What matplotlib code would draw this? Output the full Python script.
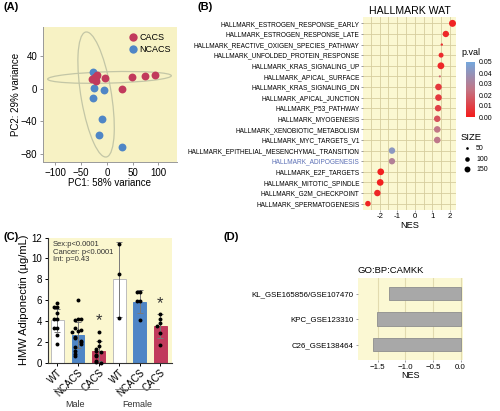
import numpy as np
import matplotlib
matplotlib.use('Agg')
import matplotlib.pyplot as plt
from matplotlib.patches import Ellipse
from matplotlib.colors import LinearSegmentedColormap, Normalize
import matplotlib.transforms as mtransforms
from matplotlib.lines import Line2D
from matplotlib.colorbar import ColorbarBase

plt.rcParams['font.family'] = ['Liberation Sans', 'DejaVu Sans']
plt.rcParams['axes.unicode_minus'] = True

W, H = 500, 411

# ---------------- Panel A data ----------------
cacs_pc1 = [-28, -24, -20, -22, -4, 30, 48, 73, 94]
cacs_pc2 = [12, 14, 17, 10, 13, 0, 15, 16, 17]
ncacs_pc1 = [-27, -21, -25, -6, -27, -9, -16, 30]
ncacs_pc2 = [21, 15, 1, -1, -11, -37, -57, -71]
ell_group = ['CACS', 'NCACS']
ell_cx = [5, -21]
ell_cy = [14, -7]
ell_major = [240, 159]
ell_minor = [14, 58]
ell_angle = [1, 105.8]

# ---------------- Panel B data ----------------
hallmark_terms = [
    'HALLMARK_ESTROGEN_RESPONSE_EARLY', 'HALLMARK_ESTROGEN_RESPONSE_LATE',
    'HALLMARK_REACTIVE_OXIGEN_SPECIES_PATHWAY', 'HALLMARK_UNFOLDED_PROTEIN_RESPONSE',
    'HALLMARK_KRAS_SIGNALING_UP', 'HALLMARK_APICAL_SURFACE',
    'HALLMARK_KRAS_SIGNALING_DN', 'HALLMARK_APICAL_JUNCTION',
    'HALLMARK_P53_PATHWAY', 'HALLMARK_MYOGENESIS',
    'HALLMARK_XENOBIOTIC_METABOLISM', 'HALLMARK_MYC_TARGETS_V1',
    'HALLMARK_EPITHELIAL_MESENCHYMAL_TRANSITION', 'HALLMARK_ADIPOGENESIS',
    'HALLMARK_E2F_TARGETS', 'HALLMARK_MITOTIC_SPINDLE',
    'HALLMARK_G2M_CHECKPOINT', 'HALLMARK_SPERMATOGENESIS']
hallmark_nes = [2.15, 1.77, 1.54, 1.50, 1.49, 1.43, 1.35, 1.35, 1.33, 1.28, 1.28, 1.28,
                -1.30, -1.30, -1.94, -1.97, -2.13, -2.67]
hallmark_pval = [0.002, 0.003, 0.005, 0.004, 0.003, 0.02, 0.008, 0.008, 0.010, 0.015,
                 0.025, 0.026, 0.042, 0.030, 0.001, 0.001, 0.003, 0.002]
hallmark_size = [200, 170, 45, 113, 190, 40, 180, 180, 175, 175, 180, 180,
                 175, 170, 185, 185, 175, 135]
highlight_term = 'HALLMARK_ADIPOGENESIS'
size_legend = [50, 100, 150]
pval_ticks = [0.05, 0.04, 0.03, 0.02, 0.01, 0.00]

# ---------------- Panel C data ----------------
c_groups = ['WT', 'NCACS', 'CACS', 'WT', 'NCACS', 'CACS']
c_sex = ['Male', 'Female']
c_means = [4.05, 2.65, 1.1, 8.0, 5.85, 3.47]
c_sd = [1.1, 1.25, 0.95, 3.6, 1.1, 1.15]
c_points = [
    [5.7, 5.3, 5.3, 4.8, 4.2, 4.2, 3.3, 3.3, 2.7, 1.8],
    [6.0, 4.2, 4.1, 4.2, 3.0, 3.3, 3.1, 2.9, 2.5, 2.4, 2.1, 2.0, 1.8, 1.5, 1.1, 0.8, 0.6],
    [2.9, 2.1, 1.6, 1.3, 1.1, 1.0, 0.7, 0.6, 0.2, 0.1, 0.0],
    [11.4, 8.5, 4.3],
    [6.8, 6.8, 5.9, 5.9, 4.1],
    [4.7, 4.2, 3.8, 3.5, 2.8, 1.7],
]
c_star = [False, False, True, False, False, True]
c_star_y = [0, 0, 4.0, 0, 0, 5.7]
c_stats = 'Sex:p<0.0001\nCancer: p<0.0001\nInt: p=0.43'

# ---------------- Panel D data ----------------
d_terms = ['KL_GSE165856/GSE107470', 'KPC_GSE123310', 'C26_GSE138464']
d_nes = [-1.29, -1.51, -1.59]

# ---------------- styles ----------------
RED = '#C13A5C'
BLUE = '#4F86C6'
BG_A = '#F7F2C4'
BG_B = '#FBF8D2'
BG_C = '#FBF7CF'
BG_D = '#FBF8D3'


def fig_rect(l, t, r, b):
    return [l / W, 1 - b / H, (r - l) / W, (b - t) / H]


fig = plt.figure(figsize=(W / 100, H / 100), dpi=100)

# ====================== Panel A ======================
axA = fig.add_axes(fig_rect(43, 27, 177, 162))
axA.set_facecolor(BG_A)
for g, cx, cy, a, b, ang in zip(ell_group, ell_cx, ell_cy, ell_major, ell_minor, ell_angle):
    axA.add_patch(Ellipse((cx, cy), a, b, angle=ang, fill=False,
                          edgecolor='#C3C6A6', linewidth=0.9, zorder=1))
axA.scatter(ncacs_pc1, ncacs_pc2, s=32, color=BLUE, zorder=3, linewidths=0)
axA.scatter(cacs_pc1, cacs_pc2, s=32, color=RED, zorder=4, linewidths=0)
axA.set_xlim(-124, 136)
axA.set_ylim(-90, 76)
axA.set_xticks([-100, -50, 0, 50, 100])
axA.set_yticks([40, 0, -40, -80])
axA.tick_params(labelsize=7, length=2.5, width=0.6, color='#888888', pad=1.5)
for s in ['top', 'right']:
    axA.spines[s].set_visible(False)
for s in ['left', 'bottom']:
    axA.spines[s].set_color('#999999')
    axA.spines[s].set_linewidth(0.7)
axA.set_xlabel('PC1: 58% variance', fontsize=7, labelpad=0.5)
axA.set_ylabel('PC2: 29% variance', fontsize=7, labelpad=0)
hA = [Line2D([], [], marker='o', ls='', color=RED, markersize=6, markeredgewidth=0),
      Line2D([], [], marker='o', ls='', color=BLUE, markersize=6, markeredgewidth=0)]
axA.legend(hA, ['CACS', 'NCACS'], loc='upper right', frameon=False, fontsize=6.5,
           handletextpad=0.2, borderaxespad=0.3, labelspacing=0.35, handlelength=1.0)

# ====================== Panel B ======================
axB = fig.add_axes(fig_rect(363, 17, 456, 210))
axB.set_facecolor(BG_B)
n = len(hallmark_terms)
ypos = np.arange(n)[::-1]
cmap = LinearSegmentedColormap.from_list('pv', ['#F41C1C', '#C27686', '#74A7DC'])
norm = Normalize(0, 0.05)
sizes_pt = np.clip(0.145 * np.array(hallmark_size) - 3.6, 1, None)
axB.scatter(hallmark_nes, ypos, s=sizes_pt, c=hallmark_pval, cmap=cmap, norm=norm,
            zorder=3, linewidths=0)
axB.set_xlim(-2.95, 2.35)
axB.set_ylim(-0.6, n - 0.4)
axB.set_xticks([-2, -1, 0, 1, 2])
axB.set_xticklabels(['-2', '-1', '0', '1', '2'])
axB.set_xticks(np.arange(-2.5, 2.3, 1.0), minor=True)
axB.set_yticks(ypos)
axB.set_yticklabels(hallmark_terms)
for lab, term in zip(axB.get_yticklabels(), hallmark_terms):
    if term == highlight_term:
        lab.set_color('#5B6FB5')
axB.grid(True, which='both', axis='x', color='#D6CE9E', linewidth=0.6)
axB.grid(True, which='major', axis='y', color='#D6CE9E', linewidth=0.6)
axB.set_axisbelow(True)
axB.tick_params(axis='y', labelsize=4.7, length=1.5, width=0.5, color='#777777', pad=1)
axB.tick_params(axis='x', labelsize=5.6, length=1.5, width=0.5, color='#777777', pad=1)
axB.tick_params(which='minor', length=0)
for s in axB.spines.values():
    s.set_visible(False)
axB.set_xlabel('NES', fontsize=6.6, labelpad=0.5)
axB.set_title('HALLMARK WAT', fontsize=7.6, pad=2)

# colorbar legend
caxB = fig.add_axes(fig_rect(466, 62, 475, 117))
cb = ColorbarBase(caxB, cmap=cmap, norm=norm, orientation='vertical')
cb.set_ticks(pval_ticks)
cb.set_ticklabels([f'{v:.2f}' for v in pval_ticks])
cb.outline.set_visible(False)
caxB.tick_params(labelsize=5, length=0, pad=3)
fig.text(461 / W, 1 - 57 / H, 'p.val', fontsize=6.5, va='bottom', ha='left')

# size legend
fig.text(461 / W, 1 - 137 / H, 'SIZE', fontsize=6.8, va='center', ha='left')
size_y = [148, 159, 169]
for sv, yy in zip(size_legend, size_y):
    fig.add_artist(Line2D([467 / W], [1 - yy / H], marker='o', ls='', color='black',
                          markersize=np.sqrt(max(0.145 * sv - 3.6, 1)),
                          markeredgewidth=0, transform=fig.transFigure))
    fig.text(476 / W, 1 - yy / H, str(sv), fontsize=5, va='center', ha='left')

# ====================== Panel C ======================
axC = fig.add_axes(fig_rect(47.7, 237.5, 171.7, 362.7))
axC.set_facecolor(BG_C)
xc = np.arange(len(c_groups))
bar_colors = ['white', BLUE, RED, 'white', BLUE, RED]
bar_edges = ['#BDBDBD', BLUE, RED, '#BDBDBD', BLUE, RED]
axC.bar(xc, c_means, width=0.62, color=bar_colors, edgecolor=bar_edges, linewidth=0.7, zorder=2)
axC.errorbar(xc, c_means, yerr=c_sd, fmt='none', ecolor='#7A7A7A', elinewidth=0.7,
             capsize=2.2, capthick=0.7, zorder=3)


def swarm_offsets(vals, dy=0.4, step=0.14):
    pattern = [0, -1, 1, -2, 2, -3, 3]
    placed, offs = [], []
    for v in vals:
        k = sum(1 for p in placed if abs(p - v) < dy)
        offs.append(pattern[k % len(pattern)] * step)
        placed.append(v)
    return offs


for i, pts in enumerate(c_points):
    offs = swarm_offsets(pts)
    axC.scatter(i + np.array(offs), pts, s=8, color='black', zorder=4, linewidths=0,
                clip_on=False)
for i, (st, sy) in enumerate(zip(c_star, c_star_y)):
    if st:
        axC.text(i, sy, '*', fontsize=12, ha='center', va='center', color='#333333')
axC.set_xlim(-0.47, 5.55)
axC.set_ylim(0, 12)
axC.set_yticks(range(0, 13, 2))
axC.set_xticks(xc)
axC.set_xticklabels(c_groups, rotation=45, ha='right', rotation_mode='anchor')
axC.tick_params(axis='y', labelsize=7, length=2.5, width=0.7, pad=1.5)
axC.tick_params(axis='x', labelsize=7, length=2, width=0.7, pad=1.5)
for s in ['top', 'right']:
    axC.spines[s].set_visible(False)
for s in ['left', 'bottom']:
    axC.spines[s].set_linewidth(0.8)
    axC.spines[s].set_color('#333333')
axC.set_ylabel('HMW Adiponectin (µg/mL)', fontsize=8, labelpad=2)
axC.text(0.04, 0.97, c_stats, transform=axC.transAxes, fontsize=5.5, va='top',
         ha='left', linespacing=1.1, color='#333333')
trC = mtransforms.blended_transform_factory(axC.transData, axC.transAxes)
for k, sex in enumerate(c_sex):
    x0, x1 = 3 * k - 0.2, 3 * k + 1.95
    axC.add_artist(Line2D([x0, x1], [-0.21, -0.21], color='#777777', linewidth=0.6,
                          transform=trC, clip_on=False))
    axC.text((x0 + x1) / 2, -0.33, sex, transform=trC, fontsize=6.5, ha='center',
             va='center', color='#333333')

# ====================== Panel D ======================
axD = fig.add_axes(fig_rect(357.7, 278.3, 463.3, 360))
axD.set_facecolor(BG_D)
yd = np.arange(len(d_terms))[::-1]
axD.barh(yd, d_nes, height=0.53, color='#A8A8A8', edgecolor='#8E8E8E', linewidth=0.6, zorder=2)
axD.set_xlim(-1.86, 0.05)
axD.set_ylim(-0.6, len(d_terms) - 0.4)
axD.set_xticks([-1.5, -1.0, -0.5, 0.0])
axD.set_xticklabels(['\u22121.5', '\u22121.0', '\u22120.5', '0.0'])
axD.set_yticks(yd)
axD.set_yticklabels(d_terms)
axD.grid(True, axis='x', color='#E2DBAF', linewidth=0.8)
axD.set_axisbelow(True)
axD.tick_params(labelsize=5.7, length=1.5, width=0.5, color='#777777', pad=1.5)
for s in axD.spines.values():
    s.set_visible(False)
axD.set_xlabel('NES', fontsize=6.5, labelpad=0)
axD.set_title('GO:BP:CAMKK', fontsize=6.8, loc='left', pad=4)

# panel labels
for lab, (px, py) in zip(['(A)', '(B)', '(C)', '(D)'],
                         [(3, 7), (197, 7), (3, 237), (223, 237)]):
    fig.text(px / W, 1 - py / H, lab, fontsize=8, fontweight='bold', va='center', ha='left')

fig.savefig('out.png', dpi=100)
